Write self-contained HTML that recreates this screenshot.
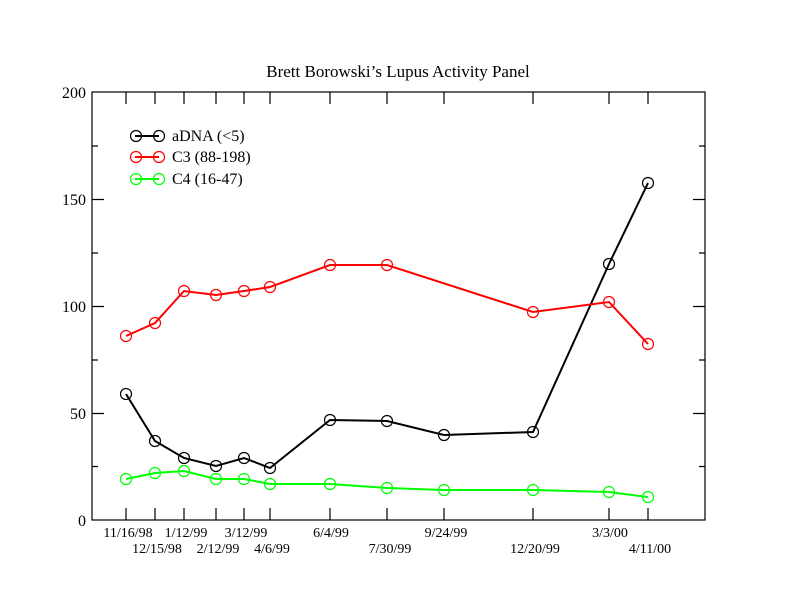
<!DOCTYPE html>
<html><head><meta charset="utf-8"><style>body{margin:0;background:#fff}svg{display:block}text{font-family:"Liberation Serif",serif;fill:#000}</style></head>
<body>
<svg width="792" height="612" viewBox="0 0 792 612" xmlns="http://www.w3.org/2000/svg">
<rect width="792" height="612" fill="#fff"/>
<text x="398" y="77" font-size="17" text-anchor="middle">Brett Borowski’s Lupus Activity Panel</text>
<rect x="92" y="92" width="613" height="428" fill="none" stroke="#000" stroke-width="1.2"/>
<g stroke="#000" stroke-width="1.2">
<path d="M92 413.5h12M92 306.5h12M92 199.5h12M92 466.5h6M92 360h6M92 253h6M92 146h6"/>
<path d="M705 413.5h-12M705 306.5h-12M705 199.5h-12M705 466.5h-6M705 360h-6M705 253h-6M705 146h-6"/>
<path d="M126 520v-12M155 520v-12M184 520v-12M216 520v-12M244 520v-12M270 520v-12M330 520v-12M387 520v-12M444 520v-12M533 520v-12M609 520v-12M648 520v-12"/>
<path d="M126 92v12M155 92v12M184 92v12M216 92v12M244 92v12M270 92v12M330 92v12M387 92v12M444 92v12M533 92v12M609 92v12M648 92v12"/>
</g>
<g font-size="16" text-anchor="end">
<text x="86" y="526">0</text><text x="86" y="419">50</text><text x="86" y="312">100</text><text x="86" y="205">150</text><text x="86" y="98">200</text>
</g>
<g font-size="14" text-anchor="middle">
<text x="128" y="537">11/16/98</text><text x="157" y="553">12/15/98</text>
<text x="186" y="537">1/12/99</text><text x="218" y="553">2/12/99</text>
<text x="246" y="537">3/12/99</text><text x="272" y="553">4/6/99</text>
<text x="331" y="537">6/4/99</text><text x="390" y="553">7/30/99</text>
<text x="446" y="537">9/24/99</text><text x="535" y="553">12/20/99</text>
<text x="610" y="537">3/3/00</text><text x="650" y="553">4/11/00</text>
</g>
<g fill="none" stroke-width="2">
<polyline stroke="#000" points="126,394 155,441 184,458 216,466 244,458 270,468 330,420 387,421 444,435 533,432 609,264 648,183"/>
<polyline stroke="#f00" points="126,336 155,323 184,291 216,295 244,291 270,287 330,265 387,265 533,312 609,302 648,344"/>
<polyline stroke="#0f0" points="126,479 155,473 184,471 216,479 244,479 270,484 330,484 387,488 444,490 533,490 609,492 648,497"/>
</g>
<g fill="none" stroke-width="1.2">
<g stroke="#000">
<circle cx="126" cy="394" r="5.5"/><circle cx="155" cy="441" r="5.5"/><circle cx="184" cy="458" r="5.5"/><circle cx="216" cy="466" r="5.5"/><circle cx="244" cy="458" r="5.5"/><circle cx="270" cy="468" r="5.5"/><circle cx="330" cy="420" r="5.5"/><circle cx="387" cy="421" r="5.5"/><circle cx="444" cy="435" r="5.5"/><circle cx="533" cy="432" r="5.5"/><circle cx="609" cy="264" r="5.5"/><circle cx="648" cy="183" r="5.5"/>
</g>
<g stroke="#f00">
<circle cx="126" cy="336" r="5.5"/><circle cx="155" cy="323" r="5.5"/><circle cx="184" cy="291" r="5.5"/><circle cx="216" cy="295" r="5.5"/><circle cx="244" cy="291" r="5.5"/><circle cx="270" cy="287" r="5.5"/><circle cx="330" cy="265" r="5.5"/><circle cx="387" cy="265" r="5.5"/><circle cx="533" cy="312" r="5.5"/><circle cx="609" cy="302" r="5.5"/><circle cx="648" cy="344" r="5.5"/>
</g>
<g stroke="#0f0">
<circle cx="126" cy="479" r="5.5"/><circle cx="155" cy="473" r="5.5"/><circle cx="184" cy="471" r="5.5"/><circle cx="216" cy="479" r="5.5"/><circle cx="244" cy="479" r="5.5"/><circle cx="270" cy="484" r="5.5"/><circle cx="330" cy="484" r="5.5"/><circle cx="387" cy="488" r="5.5"/><circle cx="444" cy="490" r="5.5"/><circle cx="533" cy="490" r="5.5"/><circle cx="609" cy="492" r="5.5"/><circle cx="648" cy="497" r="5.5"/>
</g>
</g>
<g stroke-width="2" fill="none">
<path d="M135 136h24" stroke="#000"/><path d="M135 157h24" stroke="#f00"/><path d="M135 179h24" stroke="#0f0"/>
</g>
<g stroke-width="1.2" fill="none">
<circle cx="136" cy="136" r="5.5" stroke="#000"/><circle cx="159" cy="136" r="5.5" stroke="#000"/>
<circle cx="136" cy="157" r="5.5" stroke="#f00"/><circle cx="159" cy="157" r="5.5" stroke="#f00"/>
<circle cx="136" cy="179" r="5.5" stroke="#0f0"/><circle cx="159" cy="179" r="5.5" stroke="#0f0"/>
</g>
<g font-size="16">
<text x="172" y="141">aDNA (&lt;5)</text><text x="172" y="162">C3 (88-198)</text><text x="172" y="184">C4 (16-47)</text>
</g>
</svg>
</body></html>
